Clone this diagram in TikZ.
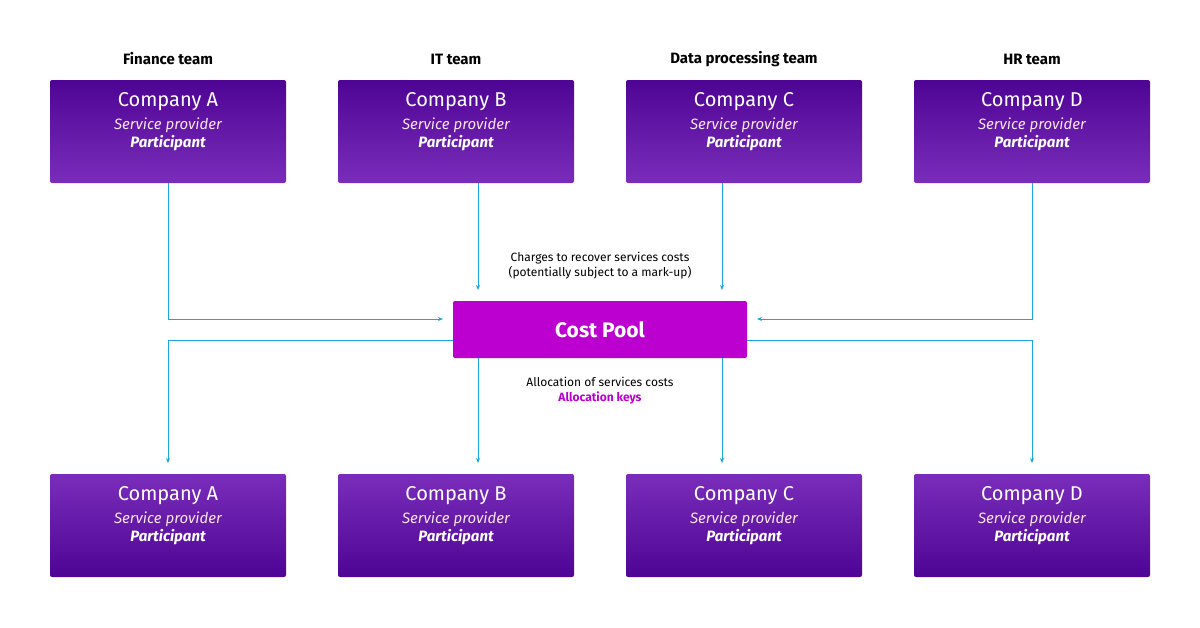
\documentclass[tikz,border=0pt]{standalone}
\usepackage{fontspec}
\setmainfont{Fira Sans}
\usetikzlibrary{arrows.meta}
\definecolor{pdark}{HTML}{4E0494}
\definecolor{plight}{HTML}{7A2DBA}
\definecolor{pool}{HTML}{BC00D0}
\definecolor{ln}{HTML}{1AA7DA}
\begin{document}
\begin{tikzpicture}[x=1pt,y=-1pt,
 box/.style={minimum width=236pt,minimum height=103pt,rounded corners=2pt,inner sep=0pt},
 topbox/.style={box,top color=pdark,bottom color=plight},
 botbox/.style={box,top color=plight,bottom color=pdark},
 arr/.style={draw=ln,line width=0.8pt,-{Stealth[length=5pt,width=4pt]}},
 team/.style={font=\fontsize{15}{18}\selectfont\bfseries},
 small/.style={font=\fontsize{12}{15}\selectfont,align=center}]
\useasboundingbox (0,0) rectangle (1200,627);
\newcommand{\boxtext}[1]{\fontsize{20}{24}\selectfont\color{white} #1\\[6pt]{\fontsize{15}{18}\selectfont\color{white!90!purple}\itshape Service provider}\\[2pt]{\fontsize{15}{18}\selectfont\color{white}\bfseries\itshape Participant}}
\foreach \n/\x/\t in {A/168/Finance team,B/456/IT team,C/744/Data processing team,D/1032/HR team}{
 \node[team] (t\n) at (\x,59) {\t};
 \node[topbox] (u\n) at (\x,131.5) {};
 \node[align=center,anchor=north] (ut\n) at (\x,89) {\boxtext{Company \n}};
 \node[botbox] (l\n) at (\x,525.5) {};
 \node[align=center,anchor=north] (lt\n) at (\x,483) {\boxtext{Company \n}};
}
\node[fill=pool,minimum width=294pt,minimum height=57pt,rounded corners=2pt,text=white,font=\fontsize{21}{25}\selectfont\bfseries] (pool) at (600,329.5) {Cost Pool};
\coordinate (pl) at (443,319); \coordinate (pr) at (757,319);
\coordinate (bt) at (478,290); \coordinate (ct) at (722,290);
\coordinate (ab) at (168,463); \coordinate (bb) at (478,463); \coordinate (cb) at (722,463); \coordinate (db) at (1032,463);
\draw[arr] (uA.south) |- (pl);
\draw[arr] (uD.south) |- (pr);
\draw[arr] (uB.south-|bt) -- (bt);
\draw[arr] (uC.south-|ct) -- (ct);
\draw[arr] (pool.west|-0,340) -| (ab);
\draw[arr] (pool.east|-0,340) -| (db);
\draw[arr] (pool.south-|bb) -- (bb);
\draw[arr] (pool.south-|cb) -- (cb);
\node[small] (c1) at (600,266) {Charges to recover services costs\\(potentially subject to a mark-up)};
\node[small] (c2) at (600,391) {Allocation of services costs\\{\color{pool}\bfseries Allocation keys}};
\end{tikzpicture}
\end{document}
